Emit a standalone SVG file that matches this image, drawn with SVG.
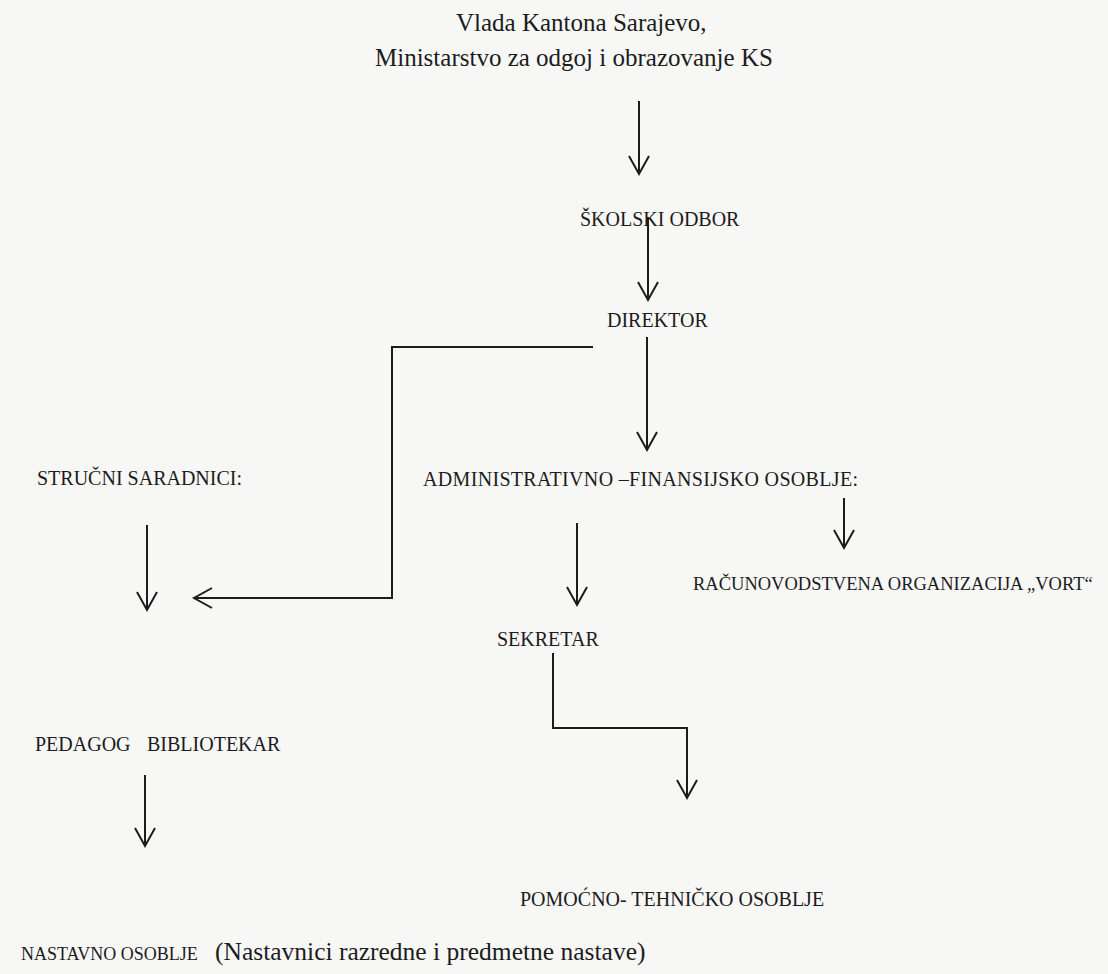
<svg xmlns="http://www.w3.org/2000/svg" width="1108" height="974" viewBox="0 0 1108 974">
<style>
.t{font-family:"Liberation Serif","Times New Roman",serif;fill:#1c1c1c}
.title{font-size:25px}
.lbl{font-size:20px}
.small{font-size:18px}
.c{fill:none;stroke:#1c1c1c;stroke-width:2}
</style>
<defs>
<marker id="ah" markerUnits="userSpaceOnUse" markerWidth="24" markerHeight="24" viewBox="0 0 24 24" refX="21" refY="12" orient="auto">
<path d="M3,2 L21,12 L3,22" fill="none" stroke="#1c1c1c" stroke-width="2"/>
</marker>
</defs>
<rect width="1108" height="974" fill="#f7f7f6"/>
<g id="connectors">
<path class="c" d="M639,101 V174" marker-end="url(#ah)"/>
<path class="c" d="M648,217 V300" marker-end="url(#ah)"/>
<path class="c" d="M593,347 H392 V598 H194" marker-end="url(#ah)"/>
<path class="c" d="M647,337 V450" marker-end="url(#ah)"/>
<path class="c" d="M844,498 V548" marker-end="url(#ah)"/>
<path class="c" d="M577,523 V605" marker-end="url(#ah)"/>
<path class="c" d="M553,653 V728 H687 V798" marker-end="url(#ah)"/>
<path class="c" d="M147,525 V610" marker-end="url(#ah)"/>
<path class="c" d="M145,775 V846" marker-end="url(#ah)"/>
</g>
<g id="vlada">
<text class="t title" x="456" y="31">Vlada Kantona Sarajevo,</text>
<text class="t title" x="375" y="66">Ministarstvo za odgoj i obrazovanje KS</text>
</g>
<g id="skolski-odbor"><text class="t lbl" x="580" y="226">ŠKOLSKI ODBOR</text></g>
<g id="direktor"><text class="t lbl" x="607" y="327">DIREKTOR</text></g>
<g id="strucni-saradnici"><text class="t lbl" x="37" y="485">STRUČNI SARADNICI:</text></g>
<g id="admin"><text class="t lbl" x="423" y="486" textLength="435" lengthAdjust="spacing">ADMINISTRATIVNO –FINANSIJSKO OSOBLJE:</text></g>
<g id="racunovodstvena"><text class="t" x="693" y="590" font-size="18.5">RAČUNOVODSTVENA ORGANIZACIJA „VORT“</text></g>
<g id="sekretar"><text class="t lbl" x="497" y="646">SEKRETAR</text></g>
<g id="pedagog-bibliotekar"><text class="t lbl" y="751"><tspan x="35">PEDAGOG</tspan><tspan x="147">BIBLIOTEKAR</tspan></text></g>
<g id="pomocno"><text class="t lbl" x="520" y="906">POMOĆNO- TEHNIČKO OSOBLJE</text></g>
<g id="nastavno"><text class="t" y="960"><tspan class="small" x="21">NASTAVNO OSOBLJE</tspan><tspan x="215" font-size="25.5">(Nastavnici razredne i predmetne nastave)</tspan></text></g>
</svg>
